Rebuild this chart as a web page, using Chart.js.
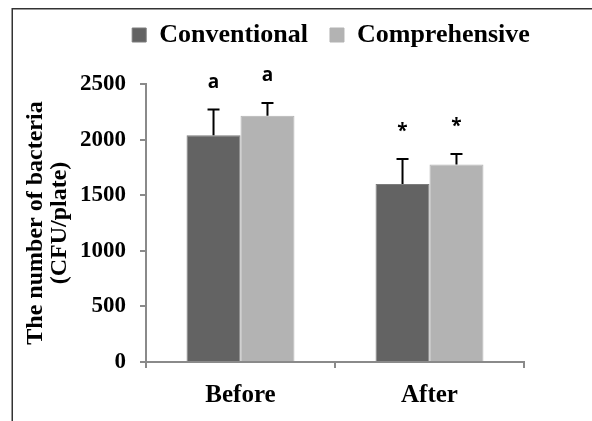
<!DOCTYPE html>
<html>
<head>
<meta charset="utf-8">
<script src="https://cdn.jsdelivr.net/npm/chart.js@4.4.1/dist/chart.umd.min.js"></script>
<style>
  html, body { margin: 0; padding: 0; background: #fff; }
  #c { display: block; }
</style>
</head>
<body>
<canvas id="c" width="592" height="421"></canvas>
<script>
const categories = ['Before', 'After'];
const seriesNames = ['Conventional', 'Comprehensive'];
const conventional = [2040, 1600];
const comprehensive = [2215, 1775];
const conventionalErr = [230, 225];
const comprehensiveErr = [115, 95];
const conventionalMarks = ['a', '*'];
const comprehensiveMarks = ['a', '*'];
const yTicks = [0, 500, 1000, 1500, 2000, 2500];
const yTitle = ['The number of bacteria', '(CFU/plate)'];

const SERIF = "'Liberation Serif', 'Times New Roman', serif";
const errs = [conventionalErr, comprehensiveErr];
const marks = [conventionalMarks, comprehensiveMarks];

const framePlugin = {
  id: 'frame',
  beforeDraw(chart) {
    const ctx = chart.ctx;
    ctx.save();
    ctx.fillStyle = '#fff';
    ctx.fillRect(0, 0, chart.width, chart.height);
    ctx.strokeStyle = '#333';
    ctx.lineWidth = 1.5;
    ctx.beginPath();
    ctx.moveTo(chart.width, 8.75);
    ctx.lineTo(12.25, 8.75);
    ctx.lineTo(12.25, chart.height);
    ctx.stroke();
    ctx.restore();
  }
};

// center legend over the plot area and lift it a little
const legendPlace = {
  id: 'legendPlace',
  afterLayout(chart) {
    const lg = chart.legend;
    const ca = chart.chartArea;
    if (!lg) return;
    const shift = (ca.left + ca.right) / 2 - (lg.left + lg.right) / 2 - 4;
    lg.left += shift; lg.right += shift;
    lg.top -= 26; lg.bottom -= 26;
  }
};

const errorPlugin = {
  id: 'errors',
  afterDatasetsDraw(chart) {
    const ctx = chart.ctx;
    const ys = chart.scales.y;
    ctx.save();
    chart.data.datasets.forEach((ds, di) => {
      const meta = chart.getDatasetMeta(di);
      meta.data.forEach((bar, i) => {
        const v = ds.data[i];
        const pBase = ys.getPixelForValue(v);
        const pTop = ys.getPixelForValue(v + errs[di][i]);
        ctx.strokeStyle = '#000';
        ctx.lineWidth = 2;
        ctx.beginPath();
        ctx.moveTo(bar.x, pBase);
        ctx.lineTo(bar.x, pTop);
        ctx.moveTo(bar.x - 6, pTop);
        ctx.lineTo(bar.x + 6, pTop);
        ctx.stroke();
        ctx.fillStyle = '#000';
        ctx.font = "bold 19px 'Open Sans', sans-serif";
        ctx.textAlign = 'center';
        ctx.textBaseline = 'alphabetic';
        ctx.fillText(marks[di][i], bar.x, pTop - 22);
      });
    });
    ctx.restore();
  }
};

new Chart(document.getElementById('c'), {
  type: 'bar',
  data: {
    labels: categories,
    datasets: [
      {
        label: seriesNames[0],
        data: conventional,
        backgroundColor: '#636363',
        borderColor: '#7c7c7c',
        borderWidth: 1
      },
      {
        label: seriesNames[1],
        data: comprehensive,
        backgroundColor: '#b3b3b3',
        borderColor: '#b3b3b3',
        borderWidth: 1
      }
    ]
  },
  options: {
    responsive: false,
    animation: false,
    devicePixelRatio: 1,
    categoryPercentage: 0.571,
    barPercentage: 1.0,
    layout: { padding: { left: 24, right: 68, top: 26, bottom: -2 } },
    plugins: {
      legend: {
        position: 'top',
        fullSize: true,
        labels: {
          boxWidth: 14,
          boxHeight: 14,
          padding: 22,
          color: '#000',
          font: { family: SERIF, size: 26, weight: 'bold' }
        }
      },
      tooltip: { enabled: false }
    },
    scales: {
      x: {
        grid: { offset: true, drawOnChartArea: false, drawTicks: true, tickLength: 6, color: '#8a8a8a', lineWidth: 2 },
        border: { display: true, color: '#8a8a8a', width: 2 },
        ticks: { color: '#000', padding: 15, font: { family: SERIF, size: 25, weight: 'bold', lineHeight: 1.0 } }
      },
      y: {
        min: 0,
        max: 2500,
        afterBuildTicks(scale) { scale.ticks = yTicks.map(v => ({ value: v })); },
        afterFit(scale) { scale.width = 122; },
        grid: { drawOnChartArea: false, drawTicks: true, tickLength: 6, color: '#8a8a8a', lineWidth: 2 },
        border: { display: true, color: '#8a8a8a', width: 2 },
        ticks: {
          color: '#000', padding: 14,
          font: { family: SERIF, size: 23, weight: 'bold' },
          callback: (v) => String(v)
        },
        title: {
          display: true,
          text: yTitle,
          color: '#000',
          font: { family: SERIF, size: 24, weight: 'bold', lineHeight: 1.0 },
          padding: { top: 0, bottom: 8 }
        }
      }
    }
  },
  plugins: [framePlugin, legendPlace, errorPlugin]
});
</script>
</body>
</html>
